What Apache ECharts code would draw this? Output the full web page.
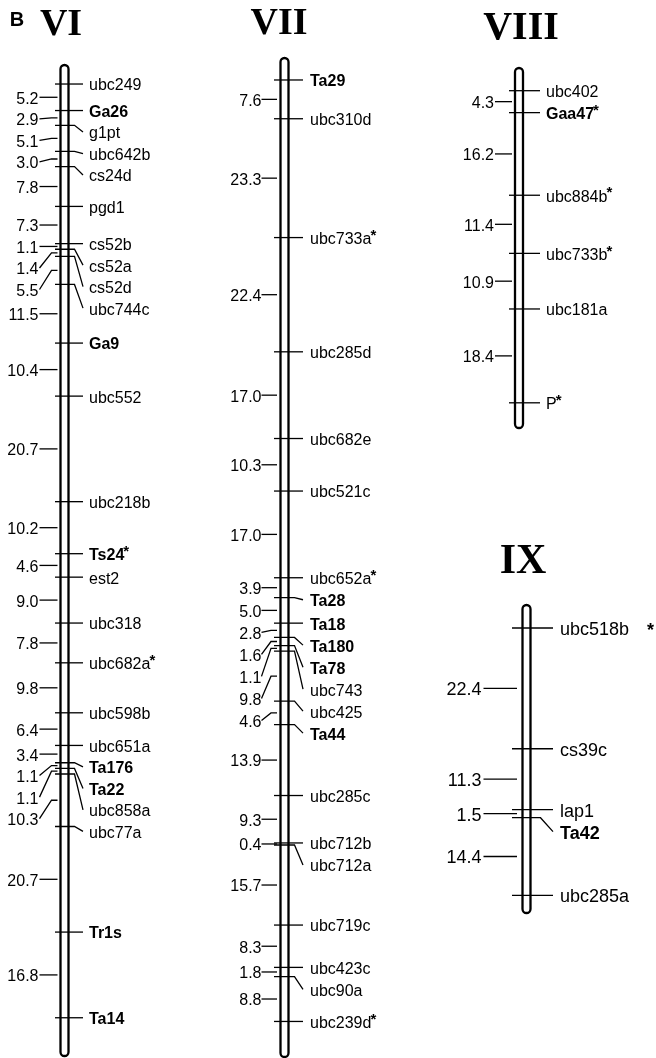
<!DOCTYPE html>
<html>
<head>
<meta charset="utf-8">
<script src="https://cdn.jsdelivr.net/npm/echarts@6/dist/echarts.min.js"></script>
<style>
html,body{margin:0;padding:0;background:#ffffff;}
#chart{width:656px;height:1058px;}
</style>
</head>
<body>
<div id="chart"></div>
<script>
// ---------------- DATA ----------------
const chromosomeNames = ['VI', 'VII', 'VIII', 'IX'];

const markersVI = ['ubc249','Ga26','g1pt','ubc642b','cs24d','pgd1','cs52b','cs52a','cs52d','ubc744c','Ga9','ubc552','ubc218b','Ts24*','est2','ubc318','ubc682a*','ubc598b','ubc651a','Ta176','Ta22','ubc858a','ubc77a','Tr1s','Ta14'];
const intervalsVI = [5.2,2.9,5.1,3.0,7.8,7.3,1.1,1.4,5.5,11.5,10.4,20.7,10.2,4.6,9.0,7.8,9.8,6.4,3.4,1.1,1.1,10.3,20.7,16.8];

const markersVII = ['Ta29','ubc310d','ubc733a*','ubc285d','ubc682e','ubc521c','ubc652a*','Ta28','Ta18','Ta180','Ta78','ubc743','ubc425','Ta44','ubc285c','ubc712b','ubc712a','ubc719c','ubc423c','ubc90a','ubc239d*'];
const intervalsVII = [7.6,23.3,22.4,17.0,10.3,17.0,3.9,5.0,2.8,1.6,1.1,9.8,4.6,13.9,9.3,0.4,15.7,8.3,1.8,8.8];

const markersVIII = ['ubc402','Gaa47*','ubc884b*','ubc733b*','ubc181a','P*'];
const intervalsVIII = [4.3,16.2,11.4,10.9,18.4];

const markersIX = ['ubc518b *','cs39c','lap1','Ta42','ubc285a'];
const intervalsIX = [22.4,11.3,1.5,14.4];

const boldMarkers = ['Ga26','Ga9','Ts24','Ta176','Ta22','Tr1s','Ta14','Ta29','Ta28','Ta18','Ta180','Ta78','Ta44','Gaa47','Ta42'];

// ---------------- LAYOUT (styles / positions) ----------------
const layouts = {
  VI:   {cx:64.5,  top:65,  height:991, min:-3.73, max:190.6,  tickL:9.5,  bend:10, tickR:18.5, textDx:24.5, leftIn:7,   leftOut:25, leftTextDx:26, font:16, gap:21.5, title:{x:61,  y:25,  size:38}},
  VII:  {cx:284.5, top:58,  height:999, min:-4.31, max:191.57, tickL:10.5, bend:10, tickR:18.5, textDx:25.5, leftIn:7.5, leftOut:23, leftTextDx:23, font:16, gap:22,   title:{x:279, y:24,  size:38}},
  VIII: {cx:519,   top:68,  height:360, min:-4.45, max:66.14,  tickL:10,   bend:11, tickR:21,   textDx:27,   leftIn:7,   leftOut:24, leftTextDx:25, font:16, gap:22,   title:{x:521, y:29,  size:40}},
  IX:   {cx:526.5, top:605, height:308, min:-4.27, max:52.88,  tickL:14.5, bend:14, tickR:26.5, textDx:33.5, leftIn:9.5, leftOut:43, leftTextDx:45, font:18, gap:22,   title:{x:523, y:562, size:42}}
};
const TEXT_DY = 2;

const SANS = '"Liberation Sans", Arial, Helvetica, sans-serif';
const SERIF = '"Liberation Serif", "Times New Roman", serif';

// ---------------- helpers ----------------
function cumulative(iv) {
  const out = [0];
  iv.forEach(v => out.push(+(out[out.length - 1] + v).toFixed(4)));
  return out;
}
function midpoints(pos) {
  const out = [];
  for (let i = 0; i < pos.length - 1; i++) out.push((pos[i] + pos[i + 1]) / 2);
  return out;
}
function pushDown(ys, gap) {
  const out = [];
  let prev = -Infinity;
  ys.forEach(y => { const v = Math.max(y, prev + gap); out.push(v); prev = v; });
  return out;
}
const measureCtx = document.createElement('canvas').getContext('2d');
function measure(text, size, weight) {
  measureCtx.font = weight + ' ' + size + 'px ' + SANS;
  return measureCtx.measureText(text).width;
}

const dataSets = {
  VI: [markersVI, intervalsVI],
  VII: [markersVII, intervalsVII],
  VIII: [markersVIII, intervalsVIII],
  IX: [markersIX, intervalsIX]
};

const chroms = chromosomeNames.map(id => {
  const [markers, intervals] = dataSets[id];
  const pos = cumulative(intervals);
  return { id, markers, intervals, pos, mids: midpoints(pos), L: layouts[id] };
});

const LINE = { stroke: '#000000', lineWidth: 1.3, fill: 'none' };

// ---------------- render functions ----------------
function bodyRender(k) {
  const c = chroms[k];
  return function (params, api) {
    const cs = params.coordSys;
    const cx = api.coord([0, c.pos[0]])[0];
    const w = 8;
    return {
      type: 'rect',
      shape: { x: cx - w / 2, y: cs.y, width: w, height: cs.height, r: w / 2 },
      style: { fill: '#ffffff', stroke: '#000000', lineWidth: 2.3 },
      silent: true
    };
  };
}

function markerRender(k) {
  const c = chroms[k], L = c.L;
  return function (params, api) {
    const i = params.dataIndex;
    const ys = c.pos.map(p => api.coord([0, p])[1]);
    const ls = pushDown(ys, L.gap);
    const pt = api.coord([api.value(0), api.value(1)]);
    const cx = pt[0], my = pt[1], ly = ls[i];
    const raw = c.markers[i];
    const hasStar = raw.indexOf('*') >= 0;
    const detached = raw.indexOf(' *') >= 0;
    const name = raw.replace(/\s*\*$/, '');
    const bold = boldMarkers.indexOf(name) >= 0;
    const weight = bold ? 'bold' : 'normal';
    const pts = Math.abs(ly - my) < 0.5
      ? [[cx - L.tickL, my], [cx + L.tickR, my]]
      : [[cx - L.tickL, my], [cx + L.bend, my], [cx + L.tickR, ly]];
    const tx = cx + L.textDx;
    const ty = ly + TEXT_DY;
    const children = [
      { type: 'polyline', shape: { points: pts }, style: Object.assign({}, LINE) },
      { type: 'text', style: { text: name, x: tx, y: ty, fill: '#000000', fontSize: L.font, fontWeight: weight, fontFamily: SANS, align: 'left', verticalAlign: 'middle' } }
    ];
    if (hasStar) {
      const w = measure(name, L.font, weight);
      children.push({
        type: 'text',
        style: {
          text: '*',
          x: detached ? tx + w + 18 : tx + w - 1,
          y: detached ? ty + 1 : ty - 4,
          fill: '#000000', fontSize: detached ? 18 : 15, fontWeight: 'bold', fontFamily: SANS,
          align: 'left', verticalAlign: 'middle'
        }
      });
    }
    return { type: 'group', children, silent: true };
  };
}

function intervalRender(k) {
  const c = chroms[k], L = c.L;
  return function (params, api) {
    const i = params.dataIndex;
    const ys = c.mids.map(m => api.coord([0, m])[1]);
    const ls = pushDown(ys, L.gap);
    const pt = api.coord([api.value(0), api.value(1)]);
    const cx = pt[0], my = pt[1], ly = ls[i];
    const pts = Math.abs(ly - my) < 0.5
      ? [[cx - L.leftOut, my], [cx - L.leftIn, my]]
      : [[cx - L.leftOut, ly], [cx - L.leftIn - 6, my], [cx - L.leftIn, my]];
    return {
      type: 'group', silent: true,
      children: [
        { type: 'polyline', shape: { points: pts }, style: Object.assign({}, LINE) },
        { type: 'text', style: { text: c.intervals[i].toFixed(1), x: cx - L.leftTextDx, y: ly + TEXT_DY, fill: '#000000', fontSize: L.font, fontFamily: SANS, align: 'right', verticalAlign: 'middle' } }
      ]
    };
  };
}

// ---------------- option ----------------
const grid = [], xAxis = [], yAxis = [], series = [];
chroms.forEach((c, k) => {
  const L = c.L;
  grid.push({ left: L.cx - 50, width: 100, top: L.top, height: L.height, containLabel: false });
  xAxis.push({ type: 'value', gridIndex: k, min: -1, max: 1, show: false });
  yAxis.push({ type: 'value', gridIndex: k, inverse: true, min: L.min, max: L.max, show: false });
  series.push({
    type: 'custom', name: c.id + ' body', coordinateSystem: 'cartesian2d', xAxisIndex: k, yAxisIndex: k,
    z: 1, renderItem: bodyRender(k), data: [[0, c.pos[0]]]
  });
  series.push({
    type: 'custom', name: c.id + ' markers', coordinateSystem: 'cartesian2d', xAxisIndex: k, yAxisIndex: k,
    z: 3, renderItem: markerRender(k),
    data: c.pos.map((p, i) => ({ name: c.markers[i], value: [0, p] }))
  });
  series.push({
    type: 'custom', name: c.id + ' intervals', coordinateSystem: 'cartesian2d', xAxisIndex: k, yAxisIndex: k,
    z: 3, renderItem: intervalRender(k),
    data: c.mids.map((m, i) => ({ name: c.intervals[i].toFixed(1), value: [0, m] }))
  });
});

const graphic = [
  { type: 'text', x: 17, y: 20, style: { text: 'B', fontSize: 20, fontWeight: 'bold', fontFamily: SANS, fill: '#000', align: 'center', verticalAlign: 'middle' } }
].concat(chroms.map(c => ({
  type: 'text', x: c.L.title.x, y: c.L.title.y,
  style: { text: c.id, fontSize: c.L.title.size, fontWeight: 'bold', fontFamily: SERIF, fill: '#000', align: 'center', verticalAlign: 'middle' }
})));

const chart = echarts.init(document.getElementById('chart'), null, { renderer: 'canvas' });
chart.setOption({
  backgroundColor: '#ffffff',
  animation: false,
  tooltip: { show: false },
  grid, xAxis, yAxis, series, graphic
});
</script>
</body>
</html>
